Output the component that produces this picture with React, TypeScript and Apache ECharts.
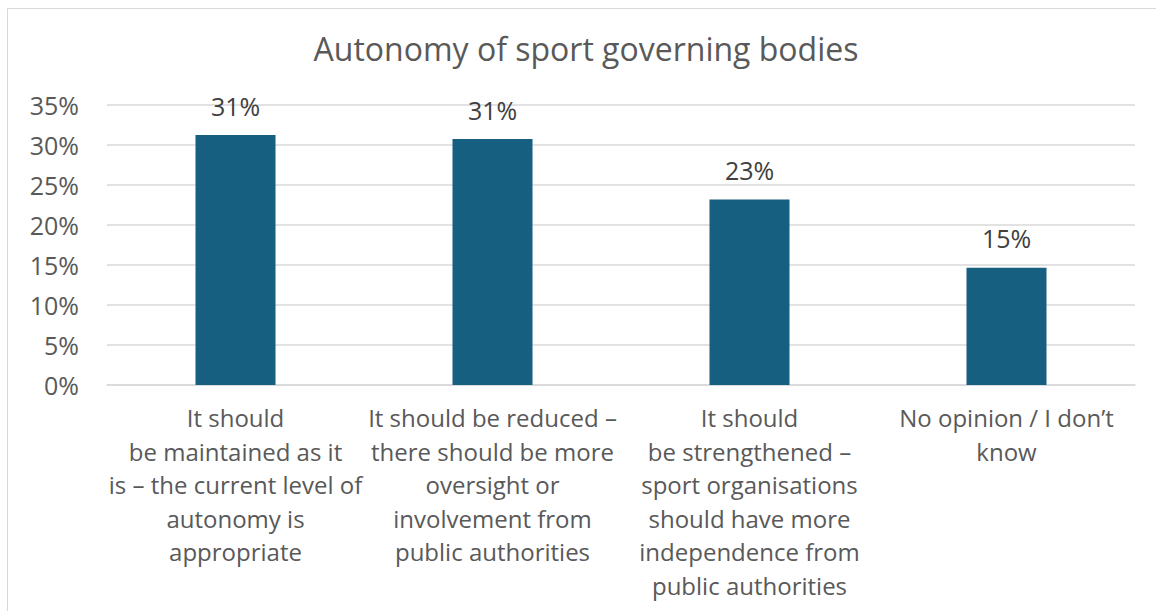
import React, { useEffect, useRef } from "react";
import * as echarts from "echarts";

const titleText = "Autonomy of sport governing bodies";
const categories = [
  "It should\nbe maintained as it\nis – the current level of\nautonomy is\nappropriate",
  "It should be reduced –\nthere should be more\noversight or\ninvolvement from\npublic authorities",
  "It should\nbe strengthened –\nsport organisations\nshould have more\nindependence from\npublic authorities",
  "No opinion / I don’t\nknow",
];
const values = [31.25, 30.75, 23.2, 14.65];
const yMin = 0;
const yMax = 35;
const yInterval = 5;

const FONT = "'Open Sans', 'Noto Sans', sans-serif";

export default function App() {
  const ref = useRef<HTMLDivElement>(null);
  useEffect(() => {
    if (!ref.current) return;
    const chart = echarts.init(ref.current, undefined, { renderer: "svg" });
    chart.setOption({
      animation: false,
      backgroundColor: "#ffffff",
      graphic: [
        {
          type: "rect",
          shape: { x: 7.5, y: 8.5, width: 1160, height: 620 },
          style: { fill: "none", stroke: "#d9d9d9", lineWidth: 1 },
          silent: true,
        },
      ],
      title: {
        text: titleText,
        left: 581,
        top: 27,
        textAlign: "center",
        textStyle: { fontFamily: FONT, fontSize: 32, fontWeight: "normal", color: "#595959" },
      },
      grid: { left: 107, right: 21, top: 105, bottom: 226, containLabel: false },
      xAxis: {
        type: "category",
        data: categories,
        axisLine: { show: true, lineStyle: { color: "#d9d9d9", width: 1.5 } },
        axisTick: { show: false },
        axisLabel: {
          interval: 0,
          fontFamily: FONT,
          fontSize: 24,
          lineHeight: 33.5,
          color: "#595959",
          margin: 16,
        },
      },
      yAxis: {
        type: "value",
        min: yMin,
        max: yMax,
        interval: yInterval,
        axisLine: { show: false },
        axisTick: { show: false },
        splitLine: { lineStyle: { color: "#d9d9d9", width: 1.5 } },
        axisLabel: {
          formatter: (v: number) => `${v}%`,
          fontFamily: FONT,
          fontSize: 25,
          color: "#595959",
          margin: 28,
        },
      },
      series: [
        {
          type: "bar",
          data: values,
          barWidth: 80,
          itemStyle: { color: "#175f81" },
          label: {
            show: true,
            position: "top",
            distance: 17,
            formatter: (p: any) => `${Math.round(p.value)}%`,
            fontFamily: FONT,
            fontSize: 25,
            color: "#404040",
          },
        },
      ],
    });
    return () => chart.dispose();
  }, []);
  return (
    <div
      ref={ref}
      style={{ position: "fixed", left: 0, top: 0, width: 1156, height: 611 }}
    />
  );
}
